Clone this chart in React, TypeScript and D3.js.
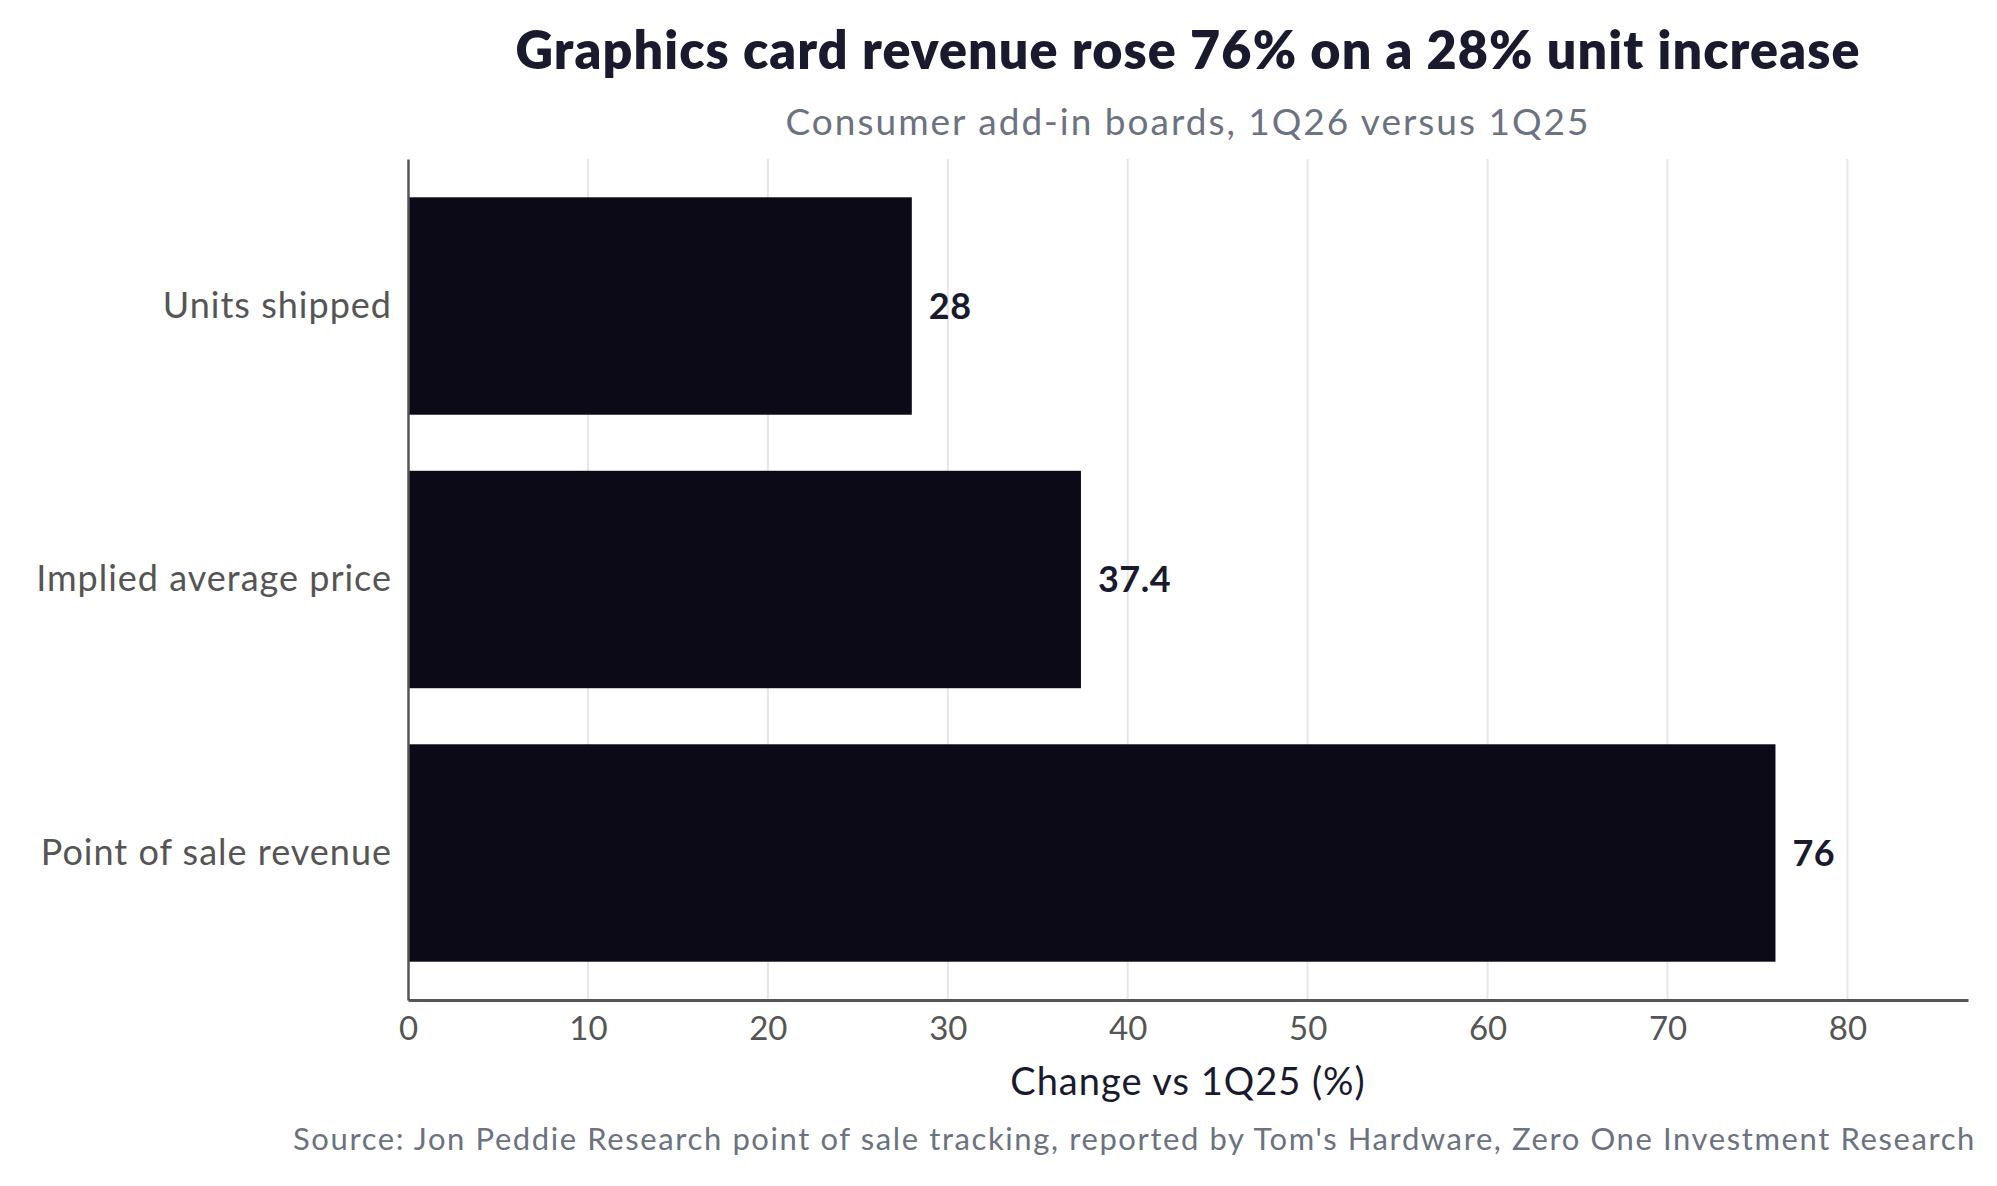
import React, { useEffect, useRef } from 'react';
import * as d3 from 'd3';

const categories = ['Units shipped', 'Implied average price', 'Point of sale revenue'];
const changes = [28, 37.4, 76];
const valueLabels = ['28', '37.4', '76'];
const xTicks = [0, 10, 20, 30, 40, 50, 60, 70, 80];

const TITLE = 'Graphics card revenue rose 76% on a 28% unit increase';
const SUBTITLE = 'Consumer add-in boards, 1Q26 versus 1Q25';
const X_LABEL = 'Change vs 1Q25 (%)';
const SOURCE = "Source: Jon Peddie Research point of sale tracking, reported by Tom's Hardware, Zero One Investment Research";

const W = 1997;
const H = 1186;
const FONT = 'Lato, "Noto Sans", sans-serif';

const App: React.FC = () => {
  const svgRef = useRef<SVGSVGElement>(null);

  useEffect(() => {
    document.body.style.margin = '0';
    if (!svgRef.current) return;

    const svg = d3.select(svgRef.current);
    svg.selectAll('*').remove();

    const margin = { top: 159, right: 29, bottom: 186, left: 408 };
    const width = W - margin.left - margin.right;
    const height = H - margin.top - margin.bottom;

    const g = svg
      .append('g')
      .attr('transform', `translate(${margin.left},${margin.top})`);

    const x = d3.scaleLinear()
      .domain([0, 86.7])
      .range([0, width]);

    const y = d3.scaleBand<string>()
      .domain(categories)
      .range([0, height])
      .paddingInner(0.205)
      .paddingOuter(0.14);

    // Grid lines
    g.append('g')
      .selectAll('line')
      .data(xTicks.filter(t => t > 0))
      .enter()
      .append('line')
      .attr('x1', d => x(d))
      .attr('x2', d => x(d))
      .attr('y1', 0)
      .attr('y2', height)
      .attr('stroke', '#e6e6ea')
      .attr('stroke-width', 2);

    // Bars
    g.selectAll('.bar')
      .data(changes)
      .enter()
      .append('rect')
      .attr('x', x(0))
      .attr('y', (_, i) => y(categories[i]) as number)
      .attr('width', d => x(d) - x(0))
      .attr('height', y.bandwidth())
      .attr('fill', '#0d0a17');

    // Value labels
    g.selectAll('.val')
      .data(changes)
      .enter()
      .append('text')
      .attr('x', d => x(d) + 17)
      .attr('y', (_, i) => (y(categories[i]) as number) + y.bandwidth() / 2)
      .attr('dy', '0.35em')
      .attr('font-family', FONT)
      .attr('font-weight', 700)
      .attr('font-size', 36)
      .attr('letter-spacing', 0.5)
      .attr('fill', '#1a1a2e')
      .text((_, i) => valueLabels[i]);

    // Y axis
    const yAxis = g.append('g')
      .call(d3.axisLeft(y).tickSize(0).tickPadding(16));
    yAxis.select('.domain').attr('stroke', '#555').attr('stroke-width', 2.5);
    yAxis.selectAll('text')
      .attr('font-family', FONT)
      .attr('font-size', 36)
      .attr('letter-spacing', 1)
      .attr('fill', '#555');

    // X axis
    const xAxis = g.append('g')
      .attr('transform', `translate(0,${height})`)
      .call(d3.axisBottom(x).tickValues(xTicks).tickSize(0).tickPadding(17).tickFormat(d3.format('d')));
    xAxis.select('.domain').attr('stroke', '#555').attr('stroke-width', 3);
    xAxis.selectAll('text')
      .attr('font-family', FONT)
      .attr('font-size', 33)
      .attr('fill', '#555');

    const cx = margin.left + width / 2;

    svg.append('text')
      .attr('x', cx)
      .attr('y', 69)
      .attr('text-anchor', 'middle')
      .attr('font-family', FONT)
      .attr('font-weight', 800)
      .attr('font-size', 52)
      .attr('letter-spacing', 1.1)
      .attr('fill', '#1a1a2e')
      .text(TITLE);

    svg.append('text')
      .attr('x', cx)
      .attr('y', 135)
      .attr('text-anchor', 'middle')
      .attr('font-family', FONT)
      .attr('font-size', 37)
      .attr('letter-spacing', 2)
      .attr('fill', '#6b7280')
      .text(SUBTITLE);

    svg.append('text')
      .attr('x', cx)
      .attr('y', 1095)
      .attr('text-anchor', 'middle')
      .attr('font-family', FONT)
      .attr('font-size', 38)
      .attr('letter-spacing', 1)
      .attr('fill', '#1a1a2e')
      .text(X_LABEL);

    svg.append('text')
      .attr('x', 1976)
      .attr('y', 1150)
      .attr('text-anchor', 'end')
      .attr('font-family', FONT)
      .attr('font-size', 31)
      .attr('letter-spacing', 1.6)
      .attr('fill', '#6b7280')
      .text(SOURCE);
  }, []);

  return (
    <svg ref={svgRef} width={W} height={H} style={{ display: 'block', background: '#fff' }} />
  );
};

export default App;
